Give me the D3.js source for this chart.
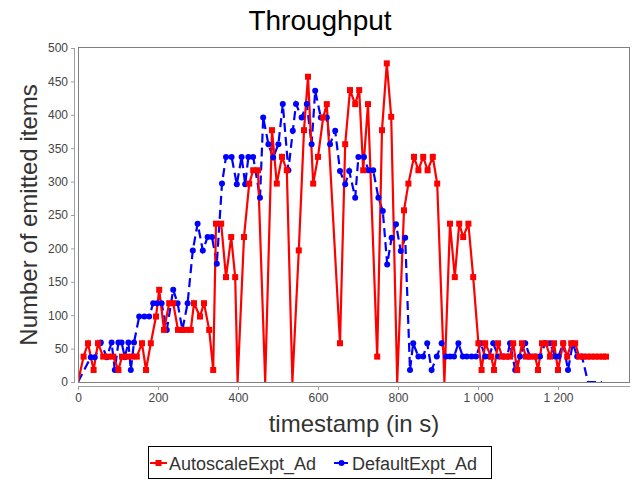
<!DOCTYPE html>
<html><head><meta charset="utf-8">
<script src="https://cdn.jsdelivr.net/npm/d3@7"></script>
<style>body{margin:0;background:#fff} svg{display:block;font-family:"Liberation Sans",Arial,sans-serif}</style>
</head><body><svg width="640" height="480"></svg>
<script>
const title = "Throughput";
const xLabel = "timestamp (in s)";
const yLabel = "Number of emitted items";
const seriesNames = ["AutoscaleExpt_Ad", "DefaultExpt_Ad"];
const xTicks = [0, 200, 400, 600, 800, 1000, 1200];
const yTicks = [0, 50, 100, 150, 200, 250, 300, 350, 400, 450, 500];

const autoT = [0,14,25,39,50,63,75,88,101,110,122,135,147,160,170,182,195,203,215,228,238,250,260,270,282,290,305,315,328,338,345,358,370,383,393,399,415,428,438,450,468,485,497,510,522,536,552,565,575,588,600,613,622,655,668,680,693,703,713,725,748,760,772,783,798,815,826,840,851,863,874,887,898,916,930,942,953,963,976,988,1001,1009,1018,1033,1040,1050,1060,1070,1080,1088,1098,1110,1120,1130,1143,1150,1160,1170,1180,1190,1200,1213,1223,1233,1243,1253,1263,1273,1283,1293,1303,1313,1320];
const autoV = [0,38,58,18,58,38,38,38,18,38,38,38,38,58,18,58,98,138,78,118,118,78,78,78,78,118,98,118,78,18,237,237,157,217,157,0,217,297,317,317,0,377,297,337,317,0,197,377,457,297,337,396,416,58,356,437,416,437,317,416,38,377,477,397,0,257,297,337,317,337,317,337,297,0,237,157,237,217,237,157,58,18,58,38,18,58,38,38,38,58,18,58,38,38,38,18,58,58,38,58,18,58,38,58,58,38,38,38,38,38,38,38,38];

const defT = [0,32,42,57,72,84,92,101,109,117,126,132,140,153,166,178,188,198,209,222,238,249,261,274,287,299,312,324,335,347,360,370,384,397,409,418,426,438,455,463,476,488,501,512,526,537,545,559,572,584,593,607,622,630,643,655,668,678,693,701,715,726,738,751,762,773,784,795,807,818,830,838,851,863,873,884,897,909,920,930,940,951,962,972,984,995,1007,1018,1028,1038,1051,1063,1073,1080,1093,1105,1118,1130,1143,1155,1168,1180,1193,1201,1213,1225,1237,1248,1260,1275,1310];
const defV = [0,37,37,59,37,59,18,59,59,37,59,18,59,98,98,98,118,118,118,78,138,118,78,118,197,237,197,217,217,177,297,337,337,296,337,296,337,337,276,396,356,336,356,416,317,376,416,396,416,356,436,396,396,356,376,316,296,316,276,337,337,317,317,276,256,176,216,236,196,216,18,58,38,38,58,18,38,58,38,38,38,58,38,38,38,38,58,38,38,58,38,38,38,58,18,38,58,38,38,38,58,58,38,38,58,18,58,38,38,0,0];

const autoData = autoT.map((t,i)=>[t, autoV[i]]);
const defData = defT.map((t,i)=>[t, defV[i]]);

const svg = d3.select("svg");
const X0=78, X1=630, Y0=48, Y1=382;
const x = d3.scaleLinear().domain([0,1380]).range([X0,X1]);
const y = d3.scaleLinear().domain([0,500]).range([Y1,Y0]);

svg.append("text").attr("x",320).attr("y",30).attr("text-anchor","middle")
  .attr("font-size",28).attr("fill","#000").text(title);

svg.append("rect").attr("x",X0+0.5).attr("y",Y0-0.5).attr("width",X1-X0-1).attr("height",Y1-Y0+1)
  .attr("fill","#fff").attr("stroke","#808080");

const fmt = d => d3.format(",")(d).replace(/,/g," ");
const gx = svg.append("g").attr("transform",`translate(0,386)`)
  .call(d3.axisBottom(x).tickValues(xTicks).tickFormat(fmt).tickSize(4).tickSizeOuter(0).tickPadding(3));
const gy = svg.append("g").attr("transform",`translate(75,0)`)
  .call(d3.axisLeft(y).tickValues(yTicks).tickSize(4).tickSizeOuter(0).tickPadding(3));
[gx,gy].forEach(g=>{
  g.select(".domain").attr("stroke","#a0a0a0");
  g.selectAll(".tick line").attr("stroke","#a0a0a0");
  g.selectAll(".tick text").attr("fill","#444").attr("font-size",12).attr("font-family","'Liberation Sans',Arial,sans-serif");
});
gx.select(".domain").attr("d",`M${X0},0.5H${X1}`);
gy.select(".domain").attr("d",`M-0.5,${Y0}V${Y1}`);

svg.append("text").attr("x",(X0+X1)/2).attr("y",432).attr("text-anchor","middle")
  .attr("font-size",24).attr("fill","#333").text(xLabel);
svg.append("text").attr("transform",`translate(37,${(Y0+Y1)/2}) rotate(-90)`).attr("text-anchor","middle")
  .attr("font-size",24).attr("fill","#333").text(yLabel);

svg.append("clipPath").attr("id","clip").append("rect").attr("x",X0+1).attr("y",Y0).attr("width",X1-X0-2).attr("height",Y1-Y0);
const plot = svg.append("g").attr("clip-path","url(#clip)");
const line = d3.line().x(d=>x(d[0])).y(d=>y(d[1]));

plot.append("path").datum(defData).attr("d",line).attr("fill","none")
  .attr("stroke","#0000ff").attr("stroke-width",2.2).attr("stroke-dasharray","9,5");
plot.append("path").datum(autoData).attr("d",line).attr("fill","none")
  .attr("stroke","#ff0000").attr("stroke-width",2.2);
plot.selectAll("circle.d").data(defData.filter(d=>d[1]>0)).enter().append("circle")
  .attr("cx",d=>x(d[0])).attr("cy",d=>y(d[1])).attr("r",3).attr("fill","#0000ff");
plot.selectAll("rect.a").data(autoData.filter(d=>d[1]>0)).enter().append("rect")
  .attr("x",d=>x(d[0])-3).attr("y",d=>y(d[1])-3).attr("width",6).attr("height",6).attr("fill","#ff0000");

const lg = svg.append("g");
lg.append("rect").attr("x",148.5).attr("y",446.5).attr("width",343).attr("height",32)
  .attr("fill","#fff").attr("stroke","#000");
lg.append("line").attr("x1",150).attr("x2",167).attr("y1",463).attr("y2",463).attr("stroke","#ff0000").attr("stroke-width",2);
lg.append("rect").attr("x",155.5).attr("y",460).attr("width",6).attr("height",6).attr("fill","#ff0000");
lg.append("text").attr("x",169).attr("y",469.5).attr("font-size",18).attr("fill","#333").text(seriesNames[0]);
lg.append("line").attr("x1",334).attr("x2",348).attr("y1",463).attr("y2",463).attr("stroke","#0000ff").attr("stroke-width",2);
lg.append("circle").attr("cx",341.5).attr("cy",463).attr("r",3).attr("fill","#0000ff");
lg.append("text").attr("x",352).attr("y",469.5).attr("font-size",18).attr("fill","#333").text(seriesNames[1]);
</script></body></html>
